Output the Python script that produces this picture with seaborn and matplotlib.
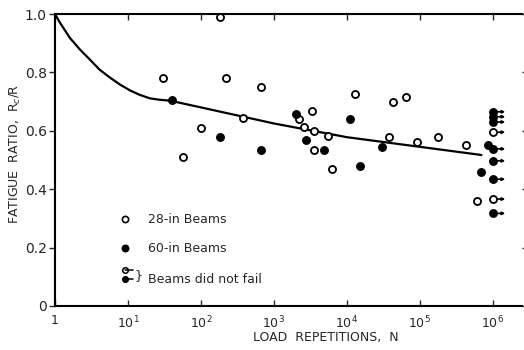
import matplotlib
matplotlib.use("Agg")
import matplotlib.pyplot as plt
import seaborn as sns
import pandas as pd

# ---- data ----
open_N = [30, 56, 100, 180, 220, 380, 660, 2200, 2600, 3300, 3600, 3600, 5600, 6200,
          13000, 38000, 43000, 65000, 91000, 180000, 430000, 600000]
open_R = [0.78, 0.51, 0.61, 0.99, 0.78, 0.645, 0.75, 0.64, 0.613, 0.667, 0.60, 0.535,
          0.583, 0.47, 0.725, 0.58, 0.70, 0.715, 0.56, 0.58, 0.55, 0.36]

filled_N = [40, 180, 660, 2000, 2800, 4800, 11000, 15000, 30000, 700000, 850000]
filled_R = [0.705, 0.58, 0.535, 0.656, 0.57, 0.535, 0.64, 0.48, 0.545, 0.458, 0.55]

runout_open_N = [1e6, 1e6]
runout_open_R = [0.595, 0.366]
runout_filled_N = [1e6, 1e6, 1e6, 1e6, 1e6, 1e6, 1e6]
runout_filled_R = [0.665, 0.648, 0.63, 0.538, 0.497, 0.434, 0.317]

curve_N = [1, 1.17, 1.6, 2.2, 3.0, 4.1, 5.6, 7.8, 10.7, 14.5, 20, 27.5, 38, 100,
           1000, 10000, 100000, 700000]
curve_R = [1.0, 0.97, 0.918, 0.878, 0.844, 0.809, 0.783, 0.758, 0.738, 0.723, 0.711,
           0.706, 0.703, 0.68, 0.625, 0.578, 0.545, 0.517]

x_ticks = [1, 10, 100, 1000, 1e4, 1e5, 1e6]
x_tick_labels = ["1", "10$^1$", "10$^2$", "10$^3$", "10$^4$", "10$^5$", "10$^6$"]
y_ticks = [0, 0.2, 0.4, 0.6, 0.8, 1.0]
y_tick_labels = ["0", "0.2", "0.4", "0.6", "0.8", "1.0"]

legend_labels = ["28-in Beams", "60-in Beams", "Beams did not fail"]

# ---- plot ----
sns.set_style("ticks")
plt.rcParams["font.family"] = ["DejaVu Sans"]

fig = plt.figure(figsize=(5.24, 3.5), dpi=100)
ax = fig.add_axes([0.105, 0.126, 0.891, 0.834])

curve_df = pd.DataFrame({"N": curve_N, "R": curve_R})
sns.lineplot(data=curve_df, x="N", y="R", ax=ax, color="black", lw=1.6, sort=True)

ms = 26
ow = 1.3
sns.scatterplot(x=open_N, y=open_R, ax=ax, marker="o", s=ms, facecolor="white",
                edgecolor="black", linewidth=ow, zorder=3)
sns.scatterplot(x=filled_N, y=filled_R, ax=ax, marker="o", s=ms, color="black",
                edgecolor="black", linewidth=ow, zorder=3)
sns.scatterplot(x=runout_open_N, y=runout_open_R, ax=ax, marker="o", s=ms,
                facecolor="white", edgecolor="black", linewidth=ow, zorder=4)
sns.scatterplot(x=runout_filled_N, y=runout_filled_R, ax=ax, marker="o", s=ms,
                color="black", edgecolor="black", linewidth=ow, zorder=4)

for n, r in list(zip(runout_open_N, runout_open_R)) + list(zip(runout_filled_N, runout_filled_R)):
    ax.annotate("", xy=(n, r), xycoords="data", xytext=(9, 0), textcoords="offset points",
                arrowprops=dict(arrowstyle="<|-", color="black", lw=1.2, shrinkA=0,
                                shrinkB=2, mutation_scale=4))

ax.set_xscale("log")
ax.set_xlim(1, 10 ** 6.4)
ax.set_ylim(0, 1.0)
ax.set_xticks(x_ticks)
ax.set_xticklabels(x_tick_labels, fontsize=9)
ax.minorticks_off()
ax.set_yticks(y_ticks)
ax.set_yticklabels(y_tick_labels, fontsize=10)
ax.tick_params(axis="x", direction="in", top=True, length=4, width=1, pad=6)
ax.tick_params(axis="y", direction="out", right=True, length=4, width=1, pad=2)
ax.tick_params(axis="y", which="both", labelright=False)

for side in ["left", "bottom", "top"]:
    ax.spines[side].set_visible(True)
    ax.spines[side].set_linewidth(1.5)
    ax.spines[side].set_color("black")
ax.spines["right"].set_visible(False)

ax.set_xlabel("LOAD  REPETITIONS,  N", fontsize=9)
ax.xaxis.set_label_coords(0.58, -0.085)
ax.set_ylabel("FATIGUE  RATIO,  R$_c$/R", fontsize=9)
ax.yaxis.set_label_coords(-0.068, 0.52)

# ---- manual legend ----
tr = ax.transAxes
ax.plot([0.15], [0.297], transform=tr, marker="o", ms=4.5, mfc="white", mec="black", mew=1.2,
        ls="none", clip_on=False)
ax.text(0.199, 0.297, legend_labels[0], transform=tr, va="center", ha="left", fontsize=9)
ax.plot([0.15], [0.197], transform=tr, marker="o", ms=4.5, mfc="black", mec="black", mew=1.2,
        ls="none", clip_on=False)
ax.text(0.199, 0.197, legend_labels[1], transform=tr, va="center", ha="left", fontsize=9)
ax.plot([0.15], [0.122], transform=tr, marker="o", ms=4, mfc="white", mec="black", mew=1.1,
        ls="none", clip_on=False)
ax.plot([0.15, 0.166], [0.122, 0.122], transform=tr, color="black", lw=1.1)
ax.plot([0.15], [0.092], transform=tr, marker="o", ms=4, mfc="black", mec="black", mew=1.1,
        ls="none", clip_on=False)
ax.plot([0.15, 0.166], [0.092, 0.092], transform=tr, color="black", lw=1.1)
ax.text(0.178, 0.105, "}", transform=tr, va="center", ha="center", fontsize=9)
ax.text(0.2, 0.09, legend_labels[2], transform=tr, va="center", ha="left", fontsize=9)

fig.savefig("out.png", dpi=100)
